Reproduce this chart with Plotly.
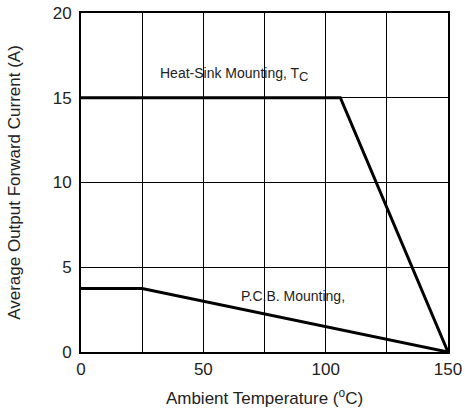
import plotly.graph_objects as go

heat_x = [0, 106, 150]
heat_y = [15, 15, 0]
pcb_x = [0, 25, 150]
pcb_y = [3.75, 3.75, 0]
x_ticks = [0, 50, 100, 150]
y_ticks = [0, 5, 10, 15, 20]

fig = go.Figure()
fig.add_trace(go.Scatter(x=heat_x, y=heat_y, mode="lines",
                         line=dict(color="black", width=3), showlegend=False))
fig.add_trace(go.Scatter(x=pcb_x, y=pcb_y, mode="lines",
                         line=dict(color="black", width=3), showlegend=False))

fig.add_annotation(x=62.5, y=16.4,
                   text="Heat-Sink Mounting, T<sub><span style='font-size:13px'>C</span></sub>",
                   showarrow=False,
                   font=dict(size=14, color="#222", family="Liberation Sans"))
fig.add_annotation(x=86.5, y=3.3, text="P.C.B. Mounting,",
                   showarrow=False,
                   font=dict(size=14, color="#222", family="Liberation Sans"))

fig.update_xaxes(range=[0, 150], tickvals=x_ticks,
                 showgrid=True, gridcolor="black", gridwidth=1,
                 showline=True, linecolor="black", linewidth=2, mirror=True,
                 zeroline=False, ticks="", ticklabelstandoff=1,
                 title=dict(text="Ambient Temperature (<sup>o</sup>C)", font=dict(size=17), standoff=14),
                 tickfont=dict(size=17))
fig.update_xaxes(minor=dict(showgrid=True, gridcolor="black", gridwidth=1, tickvals=[25, 75, 125]))
fig.update_yaxes(range=[0, 20], tickvals=y_ticks,
                 showgrid=True, gridcolor="black", gridwidth=1,
                 showline=True, linecolor="black", linewidth=2, mirror=True,
                 zeroline=False, ticks="", ticklabelstandoff=4,
                 title=dict(text="Average Output Forward Current (A)", font=dict(size=17), standoff=28),
                 tickfont=dict(size=17))

fig.update_layout(width=465, height=409, margin=dict(l=81, r=17, t=13, b=57, autoexpand=False),
                  plot_bgcolor="white", paper_bgcolor="white",
                  font=dict(family="Liberation Sans", color="#222"))
fig.write_html("out.html", config={"displayModeBar": False},
               post_script="document.body.style.margin='0';")
